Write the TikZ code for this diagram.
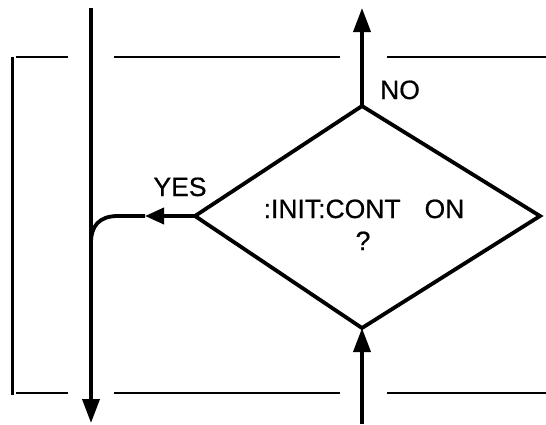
\documentclass[tikz,border=0pt]{standalone}
\usepackage{fontspec}
\setmainfont{Liberation Sans}
\usetikzlibrary{arrows.meta}
\begin{document}
\begin{tikzpicture}[x=1pt,y=-1pt,
  flow/.style={line width=3.8pt},
  thinline/.style={line width=2.4pt},
  diam/.style={line width=3.8pt, line join=miter},
  tipa/.style={-{Triangle[length=24pt,width=17pt]}},
  tipb/.style={-{Triangle[length=19pt,width=16pt]}},
  lbl/.style={font=\fontsize{26.5}{30}\selectfont\addfontfeature{FakeBold=0.6}, inner sep=0pt, anchor=base}]
\useasboundingbox (0,0) rectangle (546,424);
% decision diamond
\coordinate (dt) at (362,106);
\coordinate (dl) at (195,216);
\coordinate (dr) at (540,216);
\coordinate (db) at (362,328);
\draw[diam] (dt) -- (dr) -- (db) -- (dl) -- cycle;
\node[lbl] (q1) at (364,218) {:INIT:CONT\hspace{24pt}ON};
\node[lbl] (q2) at (363,250) {?};
% labels
\node[lbl] (no) at (400,99) {NO};
\node[lbl] (yes) at (180,196) {YES};
% flow lines
\coordinate (ntop) at (362,8);
\draw[flow,tipa] (dt) -- (ntop);
\coordinate (bin) at (362,424);
\draw[flow,tipa] (bin) -- (db);
\coordinate (ltop) at (91,8);
\coordinate (lbot) at (91,423);
\draw[flow,tipa] (ltop) -- (lbot);
\coordinate (ymid) at (145,216);
\coordinate (yc) at (118,216);
\coordinate (yj) at (91,243);
\draw[flow,tipb] (dl) -- (ymid);
\draw[flow] (ymid) -- (yc) .. controls (99,216) and (91,226) .. (yj);
% dashed frame lines
\coordinate (bt) at (12.5,57); \coordinate (bb) at (12.5,395);
\draw[thinline] (bt) -- (bb);
\foreach \yy in {57,393} {
  \draw[thinline] (16,\yy) -- (68,\yy);
  \draw[thinline] (114,\yy) -- (340,\yy);
  \draw[thinline] (387,\yy) -- (546,\yy);
}
\end{tikzpicture}
\end{document}
